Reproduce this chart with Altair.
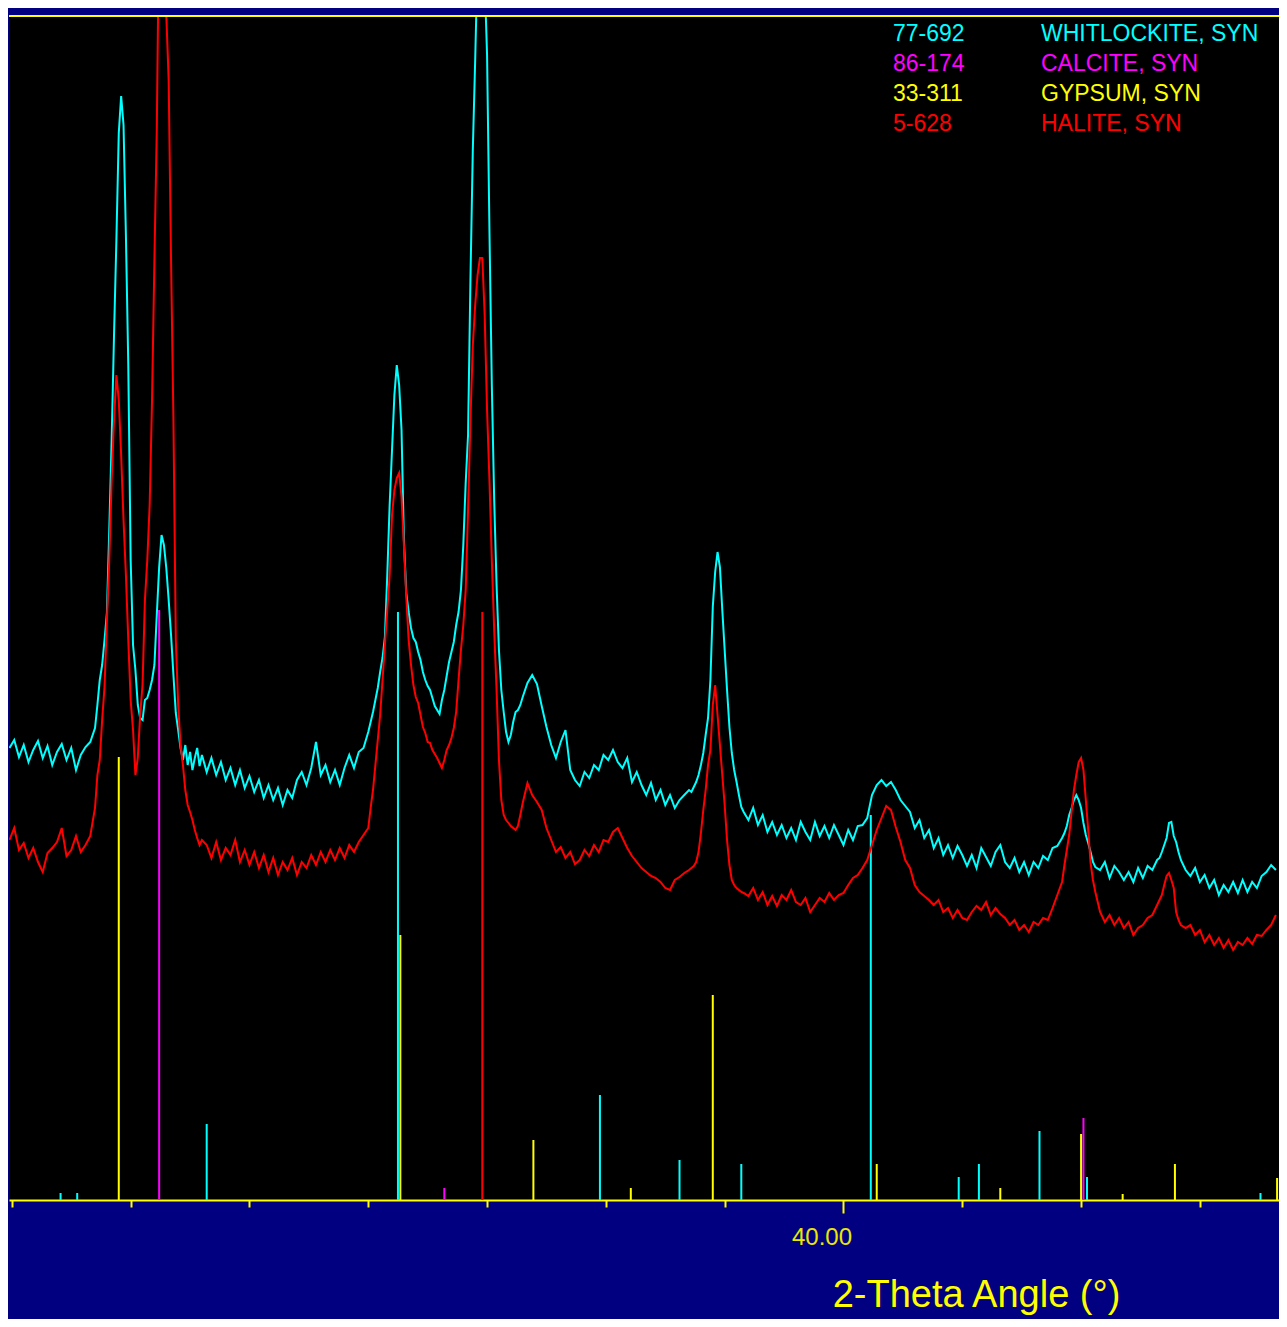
import altair as alt
import pandas as pd

# ---------------- data ----------------
# 2-theta sampling positions (degrees) of the two measured patterns
two_theta = [
    32.98, 33.02, 33.06, 33.10, 33.14, 33.18, 33.22, 33.26, 33.30, 33.34, 33.38, 33.42, 33.46, 33.50, 33.54, 33.58, 33.62, 33.66, 33.70,
    33.72, 33.74, 33.76, 33.78, 33.80, 33.82, 33.84, 33.86, 33.88, 33.90, 33.92, 33.94, 33.96, 33.98, 34.00, 34.02, 34.04, 34.06, 34.08, 34.10, 34.12, 34.14, 34.16, 34.18, 34.20, 34.22, 34.24, 34.26, 34.28, 34.30, 34.32, 34.34, 34.36, 34.38, 34.40, 34.42, 34.44, 34.46, 34.48, 34.50, 34.52, 34.54, 34.56, 34.58, 34.60,
    34.64, 34.68, 34.72, 34.76, 34.80, 34.84, 34.88, 34.92, 34.96, 35.00, 35.04, 35.08, 35.12, 35.16, 35.20, 35.24, 35.28, 35.32, 35.36, 35.40, 35.44, 35.48, 35.52, 35.56, 35.60, 35.64, 35.68, 35.72, 35.76, 35.80, 35.84, 35.88, 35.92, 35.96,
    36.00, 36.02, 36.04, 36.06, 36.08, 36.10, 36.12, 36.14, 36.16, 36.18, 36.20, 36.22, 36.24, 36.26, 36.28, 36.30, 36.32, 36.34, 36.36, 36.38, 36.40, 36.42, 36.44, 36.46, 36.48, 36.50,
    36.52, 36.54, 36.56, 36.58, 36.60, 36.62, 36.64, 36.66, 36.68, 36.70, 36.72, 36.74, 36.76, 36.78, 36.80, 36.82, 36.84, 36.86, 36.88, 36.90, 36.92, 36.94, 36.96, 36.98, 37.00, 37.02, 37.04, 37.06, 37.08, 37.10, 37.12, 37.14, 37.16, 37.18, 37.20, 37.22, 37.24, 37.26, 37.28, 37.30,
    37.34, 37.38, 37.42, 37.46, 37.50, 37.54, 37.58, 37.62, 37.66, 37.70, 37.74, 37.78, 37.82, 37.86, 37.90, 37.94, 37.98, 38.02, 38.06, 38.10, 38.14, 38.18, 38.22, 38.26, 38.30, 38.34, 38.38, 38.42, 38.46, 38.50, 38.54, 38.58, 38.62, 38.66, 38.70,
    38.72, 38.74, 38.76, 38.78, 38.80, 38.82, 38.84, 38.86, 38.88, 38.90, 38.92, 38.94, 38.96, 38.98, 39.00, 39.02, 39.04, 39.06, 39.08, 39.10, 39.12, 39.14, 39.16,
    39.20, 39.24, 39.28, 39.32, 39.36, 39.40, 39.44, 39.48, 39.52, 39.56, 39.60, 39.64, 39.68, 39.72, 39.76, 39.80, 39.84, 39.88, 39.92, 39.96, 40.00, 40.04, 40.08, 40.12,
    40.16, 40.20, 40.24, 40.28, 40.32, 40.36, 40.40, 40.44, 40.48, 40.52, 40.56, 40.60, 40.64, 40.68, 40.72, 40.76, 40.80, 40.84, 40.88, 40.92, 40.96, 41.00,
    41.04, 41.08, 41.12, 41.16, 41.20, 41.24, 41.28, 41.32, 41.36, 41.40, 41.44, 41.48, 41.52, 41.56, 41.60, 41.64, 41.68, 41.72, 41.76, 41.80, 41.84,
    41.86, 41.88, 41.90, 41.92, 41.94, 41.96, 41.98, 42.00, 42.02, 42.04, 42.06, 42.08, 42.10, 42.12,
    42.16, 42.20, 42.24, 42.28, 42.32, 42.36, 42.40, 42.44, 42.48, 42.52, 42.56, 42.60, 42.64,
    42.66, 42.68, 42.70, 42.72, 42.74, 42.76, 42.78, 42.80, 42.82, 42.84,
    42.88, 42.92, 42.96, 43.00, 43.04, 43.08, 43.12, 43.16, 43.20, 43.24, 43.28, 43.32, 43.36, 43.40, 43.44, 43.48, 43.52, 43.56, 43.60, 43.64,
]

# intensity (counts) of the cyan pattern
cyan_counts = [
    452, 460, 443, 455, 438, 450, 459, 442, 454, 435, 448, 456, 440, 452, 430, 445, 453, 458, 472,
    495, 520, 535, 560, 587, 670, 760, 865, 960, 1067, 1104, 1075, 965, 835, 640, 555, 530, 495, 482, 480, 500, 502, 510, 520, 535, 585, 633, 665, 655, 632, 600, 565, 525, 487, 470, 452, 440, 455, 435, 448, 430, 442, 452, 434, 445,
    428, 442, 425, 438, 420, 432, 415, 430, 412, 424, 408, 420, 402, 415, 400, 412, 395, 410, 402, 420, 428, 415, 432, 458, 425, 435, 418, 430, 415, 432, 445, 432, 448, 452,
    468, 478, 488, 500, 512, 528, 542, 563, 625, 695, 750, 805, 835, 815, 770, 660, 607, 588, 572, 562, 558, 548, 540, 528, 520, 514,
    510, 502, 494, 490, 486, 500, 510, 524, 538, 548, 558, 575, 588, 610, 655, 717, 765, 920, 1050, 1140, 1240, 1260, 1260, 1220, 1145, 970, 815, 700, 615, 550, 510, 488, 468, 458, 465, 478, 488, 490, 495, 503,
    517, 525, 516, 494, 473, 455, 442, 458, 470, 430, 420, 414, 428, 422, 435, 430, 445, 440, 450, 438, 432, 442, 418, 428, 415, 405, 417, 400, 410, 395, 405, 392, 400, 405, 410,
    408, 413, 418, 425, 435, 447, 465, 482, 520, 593, 628, 648, 633, 590, 550, 510, 473, 447, 430, 418, 405, 393, 388,
    380, 392, 375, 385, 368, 378, 365, 375, 362, 372, 360, 378, 368, 360, 378, 364, 374, 362, 375, 365, 355, 370, 360, 374,
    375, 382, 405, 415, 420, 414, 418, 410, 400, 394, 388, 372, 380, 362, 370, 352, 362, 345, 355, 342, 354, 345,
    334, 345, 332, 352, 343, 334, 348, 355, 338, 332, 342, 328, 338, 325, 338, 332, 344, 340, 352, 354, 362,
    367, 374, 385, 392, 400, 405, 400, 392, 377, 365, 357, 348, 338, 333,
    330, 338, 322, 334, 328, 320, 328, 318, 332, 322, 334, 330, 340,
    342, 348, 355, 362, 377, 378, 364, 358, 348, 340,
    330, 324, 332, 318, 325, 312, 320, 305, 315, 308, 318, 307, 320, 308, 318, 312, 324, 328, 335, 330,
]

# intensity (counts) of the red pattern
red_counts = [
    360, 372, 350, 357, 342, 352, 338, 328, 347, 352, 358, 372, 344, 350, 364, 348, 355, 364, 392,
    425, 440, 480, 513, 580, 640, 720, 780, 825, 800, 745, 680, 625, 560, 500, 470, 425, 442, 485, 515, 600, 640, 695, 800, 940, 1070, 1290, 1320, 1270, 1185, 1120, 940, 780, 560, 495, 455, 435, 410, 395, 388, 380, 370, 362, 355, 360,
    355, 342, 358, 340, 352, 345, 360, 338, 350, 335, 348, 332, 345, 328, 342, 325, 338, 330, 342, 325, 338, 332, 345, 335, 348, 338, 350, 340, 352, 342, 355, 348, 358, 365,
    372, 392, 410, 435, 460, 485, 520, 555, 590, 625, 685, 710, 722, 727, 703, 655, 603, 560, 535, 515, 503, 497, 485, 473, 467, 458,
    457, 450, 446, 442, 437, 432, 440, 450, 455, 462, 472, 488, 520, 550, 575, 610, 690, 780, 855, 895, 925, 942, 942, 885, 790, 720, 640, 570, 510, 440, 400, 385, 380, 377, 374, 372, 370, 374, 385, 397,
    417, 405, 398, 390, 372, 360, 348, 353, 342, 348, 336, 340, 350, 344, 355, 348, 360, 358, 368, 372, 362, 352, 344, 338, 332, 328, 324, 322, 318, 312, 310, 320, 323, 327, 330,
    332, 334, 338, 348, 367, 390, 410, 435, 450, 495, 515, 485, 455, 425, 395, 360, 335, 320, 315, 312, 310, 308, 307,
    304, 312, 300, 308, 295, 304, 294, 305, 300, 310, 298, 295, 302, 288, 295, 302, 298, 307, 300, 305, 307, 315, 322, 325,
    332, 340, 355, 370, 382, 394, 390, 373, 358, 340, 332, 315, 308, 304, 300, 295, 300, 288, 292, 282, 290, 282,
    280, 288, 294, 290, 298, 285, 292, 286, 282, 275, 280, 270, 275, 268, 278, 275, 282, 280, 292, 305, 318,
    335, 350, 365, 388, 410, 425, 438, 442, 430, 400, 370, 337, 320, 308,
    288, 278, 285, 275, 282, 272, 278, 265, 272, 275, 282, 285, 295,
    300, 305, 315, 324, 327, 320, 312, 288, 280, 275,
    272, 275, 265, 270, 258, 265, 255, 262, 252, 260, 250, 258, 255, 262, 256, 265, 264, 270, 275, 285,
]

# reference cards (stick patterns)
card_codes = ["77-692", "86-174", "33-311", "5-628"]
phase_names = ["WHITLOCKITE, SYN", "CALCITE, SYN", "GYPSUM, SYN", "HALITE, SYN"]
phase_colors = ["#00FFFF", "#FF00FF", "#FFFF00", "#FF0000"]

whitlockite_pos = [33.41, 33.55, 34.64, 36.25, 37.95, 38.62, 39.14, 40.23, 40.97, 41.14, 41.65, 42.05, 43.51]
whitlockite_int = [7, 7, 76, 588, 105, 40, 36, 385, 23, 36, 69, 23, 7]
calcite_pos = [34.24, 36.64, 42.02]
calcite_int = [590, 12, 82]
gypsum_pos = [33.90, 36.27, 37.39, 38.21, 38.90, 40.28, 41.32, 42.00, 42.35, 42.79, 43.65]
gypsum_int = [443, 265, 60, 12, 205, 36, 12, 66, 6, 36, 22]
halite_pos = [36.96]
halite_int = [588]

tick_values = [33, 34, 35, 36, 37, 38, 39, 40, 41, 42, 43]

# ---------------- tables ----------------
n = min(len(two_theta), len(cyan_counts), len(red_counts))
cyan_df = pd.DataFrame({"two_theta": two_theta[:n], "counts": cyan_counts[:n]})
red_df = pd.DataFrame({"two_theta": two_theta[:n], "counts": red_counts[:n]})

rows = []
for name, pos, inten in [
    (phase_names[0], whitlockite_pos, whitlockite_int),
    (phase_names[1], calcite_pos, calcite_int),
    (phase_names[2], gypsum_pos, gypsum_int),
    (phase_names[3], halite_pos, halite_int),
]:
    for p, h in zip(pos, inten):
        rows.append({"two_theta": p, "counts": h, "phase": name})
sticks_df = pd.DataFrame(rows)

legend_df = pd.DataFrame({"code": card_codes, "phase": phase_names, "row": [0, 1, 2, 3]})

# ---------------- chart ----------------
W, H = 1270, 1184
PAD_TOP = 8
YEL = "#FFFF00"
FONT = "Liberation Sans"

x_scale = alt.Scale(domain=[32.976, 43.666], nice=False, zero=False)
y_scale = alt.Scale(domain=[0, 1184], nice=False, zero=False)
color_scale = alt.Scale(domain=phase_names, range=phase_colors)

x_axis = alt.Axis(
    values=tick_values,
    grid=False,
    domainColor=YEL,
    domainWidth=2,
    tickColor=YEL,
    tickWidth=2,
    tickSize={"condition": {"test": "datum.value === 40", "value": 13}, "value": 7},
    labelExpr="datum.value === 40 ? '40.00' : ''",
    labelColor="#E8E800",
    labelFont=FONT,
    labelFontSize=24,
    labelOffset=-22,
    labelPadding=12,
    labelOverlap=False,
    labelFlush=False,
    title="2-Theta Angle (°)",
    titleColor=YEL,
    titleFont=FONT,
    titleFontSize=38,
    titleFontWeight="normal",
    titleX=967,
    titleY=106,
    titleAlign="center",
    titleBaseline="alphabetic",
)

x_enc = alt.X("two_theta:Q", scale=x_scale, axis=x_axis, title="2-Theta Angle (°)")

sticks = alt.Chart(sticks_df).mark_rule(strokeWidth=2).encode(
    x=x_enc,
    y=alt.Y("counts:Q", scale=y_scale, axis=None),
    y2=alt.datum(0),
    color=alt.Color("phase:N", scale=color_scale, legend=None),
)

cyan_line = alt.Chart(cyan_df).mark_line(color="#00FFFF", strokeWidth=2, clip=True).encode(
    x=x_enc,
    y=alt.Y("counts:Q", scale=y_scale, axis=None),
)

red_line = alt.Chart(red_df).mark_line(color="#FF0000", strokeWidth=2, clip=True).encode(
    x=x_enc,
    y=alt.Y("counts:Q", scale=y_scale, axis=None),
)

top_line = alt.Chart(alt.Data(values=[{}])).mark_rule(color=YEL, strokeWidth=2).encode(
    x=alt.value(0), x2=alt.value(W), y=alt.value(0)
)

row_scale = alt.Scale(type="point", domain=[0, 1, 2, 3], range=[24.7, 114.7], padding=0)

legend_codes = alt.Chart(legend_df).mark_text(
    align="left", baseline="alphabetic", font=FONT, fontSize=23
).encode(
    x=alt.value(884),
    y=alt.Y("row:O", scale=row_scale, axis=None),
    text="code:N",
    color=alt.Color("phase:N", scale=color_scale, legend=None),
)

legend_names = alt.Chart(legend_df).mark_text(
    align="left", baseline="alphabetic", font=FONT, fontSize=23
).encode(
    x=alt.value(1032),
    y=alt.Y("row:O", scale=row_scale, axis=None),
    text="phase:N",
    color=alt.Color("phase:N", scale=color_scale, legend=None),
)

chart = (
    alt.layer(sticks, cyan_line, red_line, top_line, legend_codes, legend_names)
    .resolve_scale(y="independent")
    .properties(
        width=W,
        height=H,
        background="#000080",
        padding={"left": 1, "top": PAD_TOP, "right": 0, "bottom": 1311 - PAD_TOP - H},
        autosize=alt.AutoSizeParams(type="none"),
    )
    .configure_view(fill="#000000", stroke="transparent")
)

chart.save("out.html", embed_options={"renderer": "svg", "actions": False})
